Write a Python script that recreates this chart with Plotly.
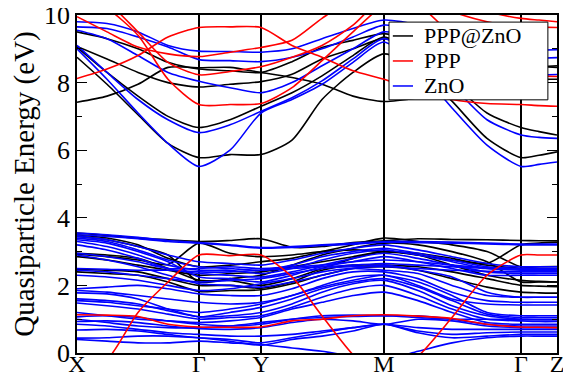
import plotly.graph_objects as go

# k-path sample positions (path length units) and high-symmetry labels
K_POINTS = [0, 30, 61, 91, 122, 153, 184, 215, 245, 276, 307, 341, 375, 410, 444, 462, 480]
SYM_POS = [0, 122, 184, 307, 444, 480]
SYM_LABELS = ["X", "Γ", "Y", "M", "Γ", "Z"]
Y_TICKS = [0, 2, 4, 6, 8, 10]
LEGEND_NAMES = ["PPP@ZnO", "PPP", "ZnO"]
LEGEND_COLORS = ["#000000", "#ff0000", "#0000ff"]

# PPP@ZnO (black) bands, eV
PPP_ZNO_COND = [
    [8.75, 7.95, 7.05, 6.2, 5.78, 5.87, 5.87, 6.3, 7.5, 8.3, 8.85, 8.4, 7.45, 6.35, 5.78, 5.85, 5.95],
    [9.05, 8.3, 7.6, 7.0, 6.67, 6.9, 7.3, 7.7, 8.2, 8.8, 9.35, 8.8, 8.0, 7.1, 6.67, 6.55, 6.45],
    [7.42, 7.6, 7.95, 8.45, 8.44, 8.45, 8.3, 8.15, 7.95, 7.6, 7.44, 7.55, 7.75, 7.95, 8.45, 8.47, 8.5],
    [9.07, 8.7, 8.3, 8.0, 7.87, 7.95, 8.03, 8.25, 8.7, 9.0, 9.3, 9.0, 8.6, 8.3, 8.1, 8.1, 8.1],
    [9.5, 9.3, 9.0, 8.6, 8.4, 8.35, 8.3, 8.62, 9.04, 9.25, 9.45, 9.2, 8.9, 8.6, 8.5, 8.48, 8.45],
]
PPP_ZNO_VAL = [
    [3.55, 3.48, 3.4, 3.35, 3.3, 3.33, 3.38, 3.13, 3.15, 3.27, 3.32, 3.38, 3.36, 3.35, 3.33, 3.32, 3.32],
    [2.92, 2.85, 2.75, 2.62, 3.25, 2.95, 2.85, 2.9, 3.0, 3.05, 3.0, 2.95, 2.8, 2.65, 3.2, 3.25, 3.28],
    [2.85, 2.75, 2.6, 2.45, 2.3, 2.35, 2.4, 2.55, 2.7, 2.85, 3.0, 2.9, 2.75, 2.6, 2.5, 2.48, 2.46],
    [2.48, 2.45, 2.4, 2.2, 2.0, 2.0, 1.92, 2.1, 2.45, 2.6, 2.6, 2.55, 2.4, 2.2, 2.0, 1.98, 1.96],
    [2.4, 2.35, 2.3, 2.1, 1.82, 1.85, 1.87, 2.05, 2.3, 2.5, 2.55, 2.45, 2.2, 1.95, 1.8, 1.78, 1.77],
    [3.5, 3.4, 3.2, 2.8, 2.55, 2.6, 2.7, 2.8, 3.0, 3.2, 3.4, 3.3, 3.2, 3.0, 2.55, 2.55, 2.56],
    [3.45, 3.35, 3.15, 2.9, 2.1, 2.2, 2.3, 2.6, 2.9, 3.1, 3.25, 3.2, 3.0, 2.7, 2.1, 2.1, 2.1],
    [2.95, 2.9, 2.8, 2.5, 2.15, 2.15, 2.0, 2.2, 2.5, 2.8, 3.0, 2.9, 2.6, 2.3, 2.15, 2.12, 2.1],
]

# PPP (red) bands, eV
PPP_BANDS = [
    [10.6, 10.2, 9.4, 8.1, 7.35, 7.35, 7.38, 7.85, 8.65, 9.5, 10.3, 10.6, 10.4, 10.1, 9.9, 9.85, 9.8],
    [8.12, 8.4, 8.8, 9.35, 9.63, 9.65, 9.63, 9.1, 8.75, 8.35, 8.1, 7.75, 7.5, 7.38, 7.35, 7.32, 7.3],
    [11.0, 10.4, 9.5, 8.6, 8.23, 8.33, 8.47, 8.75, 9.1, 9.7, 10.5, 10.3, 9.4, 8.6, 8.2, 8.19, 8.18],
    [9.95, 9.5, 9.05, 8.85, 8.77, 8.9, 9.04, 9.25, 9.9, 10.5, 10.8, 10.5, 10.1, 9.8, 9.65, 9.64, 9.63],
    [-0.6, -0.2, 1.2, 2.1, 2.9, 2.88, 2.9, 2.25, 1.1, -0.05, -0.8, -0.1, 1.05, 2.3, 2.9, 2.9, 2.9],
    [1.13, 1.12, 1.08, 0.85, 0.77, 0.76, 0.77, 0.95, 1.0, 1.1, 1.13, 1.09, 1.02, 0.85, 0.77, 0.76, 0.75],
]

# ZnO (blue) bands, eV
ZNO_COND = [
    [9.0, 8.1, 7.1, 6.2, 5.52, 6.0, 7.1, 7.5, 7.95, 8.6, 9.2, 8.4, 7.25, 6.15, 5.52, 5.58, 5.65],
    [9.1, 8.3, 7.5, 6.9, 6.52, 6.75, 7.15, 7.55, 8.05, 8.7, 9.3, 8.7, 7.9, 6.9, 6.45, 6.38, 6.35],
    [9.55, 9.3, 8.8, 8.3, 8.04, 7.85, 7.7, 8.0, 8.5, 9.0, 9.5, 9.3, 8.9, 8.4, 8.2, 8.22, 8.24],
    [9.65, 9.6, 9.35, 9.05, 8.68, 8.65, 8.62, 8.75, 9.0, 9.35, 9.7, 9.5, 9.1, 8.8, 8.7, 8.72, 8.74],
    [9.8, 9.75, 9.5, 9.1, 8.93, 8.92, 8.9, 9.0, 9.3, 9.6, 9.85, 9.7, 9.3, 9.0, 8.95, 8.96, 8.97],
]
ZNO_VAL = [
    [3.55, 3.5, 3.42, 3.33, 3.27, 3.2, 3.12, 3.15, 3.2, 3.25, 3.3, 3.3, 3.28, 3.25, 3.22, 3.22, 3.22],
    [3.5, 3.45, 3.38, 3.3, 3.25, 3.18, 3.1, 3.12, 3.18, 3.22, 3.28, 3.26, 3.25, 3.23, 3.2, 3.2, 3.2],
    [3.45, 3.35, 3.15, 2.9, 2.7, 2.65, 2.6, 2.75, 2.95, 3.1, 3.2, 3.05, 2.85, 2.65, 2.55, 2.55, 2.55],
    [3.4, 3.3, 3.05, 2.75, 2.55, 2.5, 2.45, 2.6, 2.85, 3.0, 3.1, 2.95, 2.75, 2.55, 2.5, 2.5, 2.5],
    [3.3, 3.15, 2.9, 2.6, 2.45, 2.45, 2.35, 2.5, 2.75, 2.95, 3.05, 2.9, 2.7, 2.5, 2.45, 2.45, 2.45],
    [3.2, 3.05, 2.8, 2.5, 2.35, 2.3, 2.25, 2.4, 2.6, 2.8, 2.95, 2.8, 2.6, 2.4, 2.35, 2.35, 2.35],
    [2.95, 2.85, 2.7, 2.5, 2.5, 2.55, 2.5, 2.55, 2.6, 2.7, 2.75, 2.7, 2.6, 2.52, 2.5, 2.5, 2.5],
    [2.5, 2.48, 2.45, 2.45, 2.4, 2.4, 2.45, 2.5, 2.55, 2.6, 2.65, 2.6, 2.55, 2.5, 2.48, 2.48, 2.48],
    [2.45, 2.4, 2.3, 2.2, 2.1, 2.15, 2.2, 2.35, 2.5, 2.55, 2.55, 2.5, 2.45, 2.42, 2.4, 2.4, 2.4],
    [2.3, 2.25, 2.15, 2.0, 1.85, 1.9, 2.05, 2.2, 2.4, 2.5, 2.45, 2.35, 2.0, 1.7, 1.65, 1.65, 1.65],
    [1.9, 1.95, 2.0, 1.9, 1.75, 1.7, 1.7, 1.9, 2.2, 2.4, 2.4, 2.2, 1.8, 1.55, 1.5, 1.5, 1.5],
    [1.85, 1.8, 1.7, 1.6, 1.5, 1.45, 1.5, 1.7, 2.0, 2.25, 2.3, 2.1, 1.7, 1.2, 1.1, 1.1, 1.1],
    [1.78, 1.75, 1.6, 1.3, 1.07, 1.2, 1.35, 1.6, 1.9, 2.1, 2.2, 1.95, 1.55, 1.15, 1.05, 1.05, 1.05],
    [1.6, 1.55, 1.45, 1.25, 1.07, 1.1, 1.2, 1.45, 1.8, 2.05, 2.15, 1.85, 1.4, 1.1, 1.0, 0.98, 0.98],
    [1.48, 1.4, 1.3, 1.15, 1.0, 1.05, 1.1, 1.35, 1.65, 1.9, 2.0, 1.7, 1.3, 1.0, 0.95, 0.93, 0.93],
    [1.2, 1.1, 1.0, 0.95, 0.9, 0.95, 1.05, 1.3, 1.5, 1.7, 1.8, 1.55, 1.2, 0.9, 0.85, 0.85, 0.85],
    [1.07, 1.1, 1.05, 0.95, 0.85, 0.8, 0.85, 1.0, 1.1, 1.12, 1.1, 1.1, 1.0, 0.85, 0.8, 0.8, 0.8],
    [0.93, 0.95, 0.9, 0.8, 0.72, 0.7, 0.75, 0.9, 1.0, 0.95, 0.85, 1.0, 0.95, 0.8, 0.75, 0.75, 0.75],
    [0.85, 0.8, 0.7, 0.6, 0.55, 0.5, 0.5, 0.55, 0.65, 0.75, 0.85, 0.75, 0.7, 0.7, 0.7, 0.7, 0.7],
    [0.68, 0.7, 0.65, 0.55, 0.45, 0.4, 0.3, 0.45, 0.6, 0.75, 0.85, 0.65, 0.55, 0.6, 0.62, 0.62, 0.62],
    [0.44, 0.45, 0.5, 0.5, 0.45, 0.35, 0.23, 0.4, 0.5, 0.65, 0.85, 0.6, 0.45, 0.5, 0.55, 0.55, 0.55],
    [0.4, 0.35, 0.3, 0.3, 0.35, 0.3, 0.25, 0.15, 0.05, -0.1, -0.2, 0.05, 0.3, 0.45, 0.5, 0.5, 0.5],
    [3.35, 3.25, 3.0, 2.7, 2.25, 2.2, 2.1, 2.3, 2.55, 2.7, 2.85, 2.7, 2.5, 2.3, 2.3, 2.3, 2.3],
    [2.9, 2.75, 2.55, 2.3, 2.05, 2.0, 1.95, 2.1, 2.3, 2.5, 2.6, 2.45, 2.25, 1.8, 1.65, 1.65, 1.65],
    [1.55, 1.5, 1.4, 1.3, 1.2, 1.3, 1.45, 1.7, 1.95, 2.15, 2.3, 2.0, 1.6, 1.45, 1.42, 1.42, 1.42],
    [1.0, 0.9, 0.8, 0.75, 0.75, 0.8, 0.9, 1.0, 1.05, 1.08, 1.1, 1.05, 1.0, 1.0, 1.0, 1.0, 1.0],
]

FONT = "Liberation Serif"

fig = go.Figure()


def add_group(bands, color, name):
    for band in bands:
        fig.add_trace(go.Scatter(
            x=K_POINTS, y=band, mode="lines",
            line=dict(color=color, width=1.6, shape="spline", smoothing=0.7),
            name=name, showlegend=False, hoverinfo="skip",
        ))


add_group(PPP_ZNO_VAL + PPP_ZNO_COND, "#000000", "PPP@ZnO")
add_group(ZNO_VAL + ZNO_COND, "#0000ff", "ZnO")
add_group(PPP_BANDS, "#ff0000", "PPP")

# Compact legend box (xmgrace style), placed in paper coordinates
LEG_X0, LEG_X1, LEG_Y0, LEG_Y1 = 0.650, 0.981, 0.749, 0.979
ROW_Y = [0.938, 0.864, 0.790]
shapes = [dict(type="rect", xref="paper", yref="paper", x0=LEG_X0, x1=LEG_X1, y0=LEG_Y0, y1=LEG_Y1,
               line=dict(color="black", width=1), fillcolor="white", layer="above")]
annotations = []
for name, color, ry in zip(LEGEND_NAMES, LEGEND_COLORS, ROW_Y):
    shapes.append(dict(type="line", xref="paper", yref="paper", x0=0.658, x1=0.700, y0=ry, y1=ry,
                       line=dict(color=color, width=1.5), layer="above"))
    annotations.append(dict(xref="paper", yref="paper", x=0.721, y=ry, xanchor="left", yanchor="middle",
                            text=name, showarrow=False, borderpad=0,
                            font=dict(family=FONT, size=22, color="black")))

# the page body has an 8 px default margin, so the figure is 8 px smaller
fig.update_layout(
    width=563, height=370,
    margin=dict(l=69, r=14, t=7, b=25),
    paper_bgcolor="white", plot_bgcolor="white",
    font=dict(family=FONT, color="black"),
    showlegend=False,
    shapes=shapes, annotations=annotations,
    xaxis=dict(
        range=[0, 480], tickmode="array", tickvals=SYM_POS, ticktext=SYM_LABELS,
        showgrid=True, gridcolor="black", gridwidth=1.5, zeroline=False,
        showline=True, linecolor="black", linewidth=1.5, mirror=True,
        ticks="", tickfont=dict(family=FONT, size=24, color="black"),
        ticklabelstandoff=-12, ticklabeloverflow="allow",
        automargin=False,
    ),
    yaxis=dict(
        range=[0, 10], tickmode="array", tickvals=Y_TICKS,
        showgrid=False, zeroline=False,
        showline=True, linecolor="black", linewidth=1.5, mirror="ticks",
        ticks="inside", ticklen=10, tickwidth=1.3, tickcolor="black",
        minor=dict(ticks="inside", ticklen=5, tickwidth=1.3, tickcolor="black", dtick=1, tick0=0, showgrid=False),
        tickfont=dict(family=FONT, size=26, color="black"), ticklabeloverflow="allow",
        title=dict(text="Quasiparticle Energy (eV)", font=dict(family=FONT, size=29, color="black"), standoff=3),
        automargin=False,
    ),
)

fig.write_html("out.html")
